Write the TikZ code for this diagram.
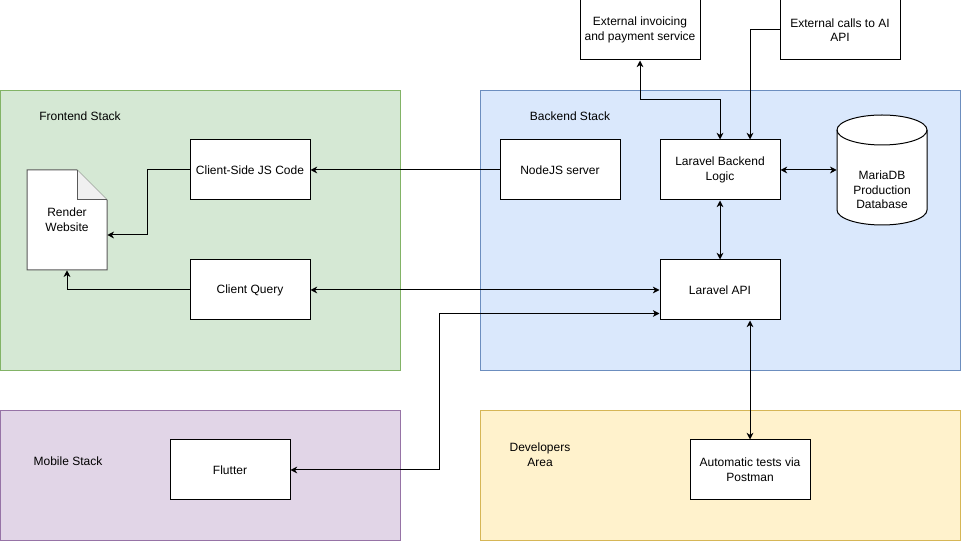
\documentclass[tikz,border=0pt]{standalone}
\usepackage{fontspec}
\setmainfont{Liberation Sans}
\usetikzlibrary{arrows.meta,calc}
\definecolor{frontfill}{HTML}{D5E8D4}\definecolor{frontline}{HTML}{82B366}
\definecolor{backfill}{HTML}{DAE8FC}\definecolor{backline}{HTML}{6C8EBF}
\definecolor{mobfill}{HTML}{E1D5E7}\definecolor{mobline}{HTML}{9673A6}
\definecolor{devfill}{HTML}{FFF2CC}\definecolor{devline}{HTML}{D6B656}
\begin{document}
\begin{tikzpicture}[x=0.75pt,y=-0.75pt,
    font=\fontsize{9}{11}\selectfont,
    box/.style={draw,fill=white,line width=0.75pt,minimum width=90pt,minimum height=45pt,align=center,inner sep=1pt},
    link/.style={line width=0.75pt,-{Stealth[length=5pt,width=5pt,inset=1.5pt]}},
    both/.style={line width=0.75pt,{Stealth[length=5pt,width=5pt,inset=1.5pt]}-{Stealth[length=5pt,width=5pt,inset=1.5pt]}}]
    \useasboundingbox (0,0) rectangle (961,541);
    % areas
    \draw[fill=frontfill,draw=frontline,line width=0.75pt] (0.5,90.5) rectangle (400.5,370.5);
    \draw[fill=backfill,draw=backline,line width=0.75pt] (480.5,90.5) rectangle (960.5,370.5);
    \draw[fill=mobfill,draw=mobline,line width=0.75pt] (0.5,410.5) rectangle (400.5,540.5);
    \draw[fill=devfill,draw=devline,line width=0.75pt] (480.5,410.5) rectangle (960.5,540.5);
    \node (frontlabel) at (80,116) {Frontend Stack};
    \node (backlabel) at (570,116) {Backend Stack};
    \node (moblabel) at (68,461) {Mobile Stack};
    \node[align=center] (devlabel) at (540,455) {Developers\\Area};
    % document and database shapes
    \draw[fill=white,draw=black!65,line width=0.75pt] (27,170) -- (77,170) -- (107,200) -- (107,270) -- (27,270) -- cycle;
    \draw[fill=black!6,draw=black!65,line width=0.75pt] (77,170) -- (77,200) -- (107,200);
    \node[minimum width=60pt,minimum height=75pt,align=center] (render) at (67,220) {Render\\Website};
    \draw[fill=white,line width=0.75pt] (837,130) -- (837,210) arc[start angle=180,end angle=360,x radius=33.75pt,y radius=11.25pt]
        -- (927,130) arc[start angle=0,end angle=180,x radius=33.75pt,y radius=11.25pt] -- cycle;
    \draw[line width=0.75pt] (837,130) arc[start angle=180,end angle=360,x radius=33.75pt,y radius=11.25pt];
    \node[minimum width=67.5pt,minimum height=82.5pt,inner sep=0pt] (db) at (882,170) {};
    \node[align=center] (dbtext) at (882,190) {MariaDB\\Production\\Database};
    % boxes
    \node[box] (jscode) at (250,170) {Client-Side JS Code};
    \node[box] (query) at (250,290) {Client Query};
    \node[box] (nodejs) at (560,170) {NodeJS server};
    \node[box] (logic) at (720,170) {Laravel Backend\\Logic};
    \node[box] (api) at (720,290) {Laravel API};
    \node[box] (invoice) at (640,30) {External invoicing\\and payment service};
    \node[box] (aicalls) at (840,30) {External calls to AI\\API};
    \node[box] (flutter) at (230,470) {Flutter};
    \node[box] (tests) at (750,470) {Automatic tests via\\Postman};
    % connectors
    \draw[link] (nodejs) -- (jscode);
    \draw[link] (jscode.west) -- ++(-42,0) |- ($(render.east)+(0,15)$);
    \draw[link] (query.west) -| (render.south);
    \draw[both] (query) -- (api);
    \draw[both] ($(api.south west)+(0,-7)$) -- ++(-220,0) |- (flutter.east);
    \draw[both] (logic) -- (api);
    \draw[both] (logic) -- (db.west);
    \draw[both] (invoice.south) |- (720,100) -- (logic.north);
    \draw[link] (aicalls.west) -| ($(logic.north)+(30,0)$);
    \draw[both] ($(api.south)+(30,0)$) -- (tests.north);
\end{tikzpicture}
\end{document}
